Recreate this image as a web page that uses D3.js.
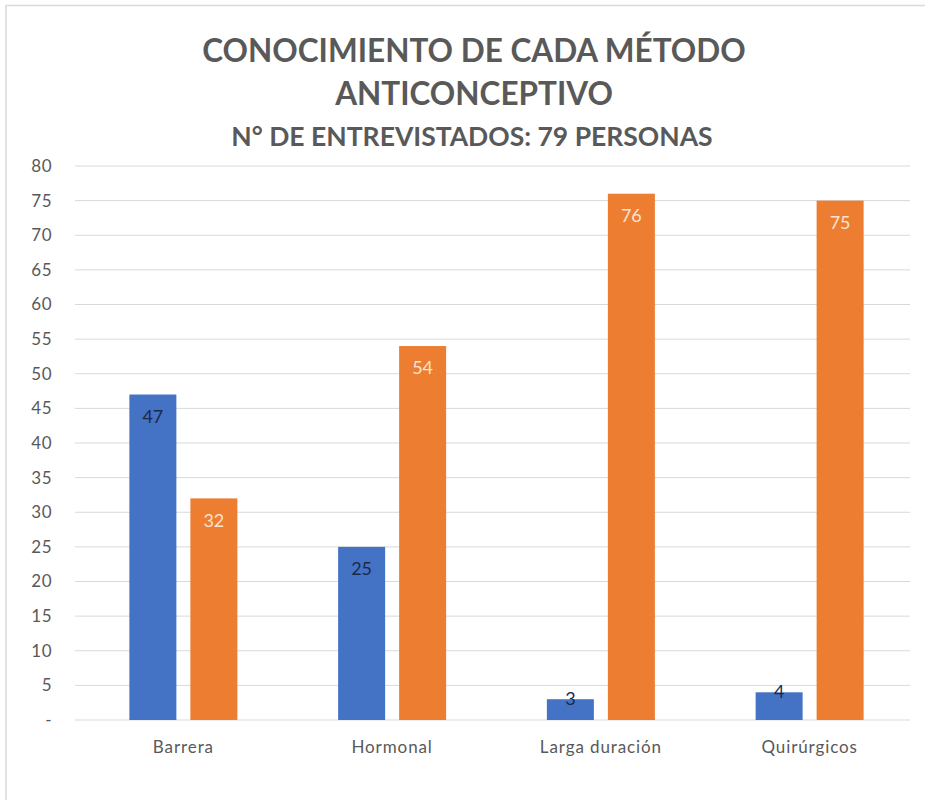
<!DOCTYPE html>
<html><head><meta charset="utf-8">
<script src="https://cdn.jsdelivr.net/npm/d3@7"></script>
<style>body{margin:0;background:#fff}svg{display:block}</style>
</head><body>
<svg id="c" width="925" height="800"></svg>
<script>
const categories = ["Barrera", "Hormonal", "Larga duración", "Quirúrgicos"];
const series1 = [47, 25, 3, 4];
const series2 = [32, 54, 76, 75];
const yTicks = [0,5,10,15,20,25,30,35,40,45,50,55,60,65,70,75,80];
const titleLines = ["CONOCIMIENTO DE CADA MÉTODO", "ANTICONCEPTIVO"];
const subtitle = "N° DE ENTREVISTADOS: 79 PERSONAS";

const svg = d3.select("#c");
const font = "Lato, 'Open Sans', sans-serif";
// frame
svg.append("rect").attr("x",6).attr("y",5.5).attr("width",940).attr("height",820)
  .attr("fill","none").attr("stroke","#d9d9d9").attr("stroke-width",1.5);

const x0 = d3.scaleBand().domain(categories).range([75, 910]).paddingInner(0).paddingOuter(0);
const y = d3.scaleLinear().domain([0, 80]).range([720, 166]);
const bw = 47, gap = 14;

// gridlines
svg.append("g").selectAll("line").data(yTicks).join("line")
  .attr("x1",75).attr("x2",910).attr("y1",d=>y(d)).attr("y2",d=>y(d))
  .attr("stroke","#d9d9d9").attr("stroke-width",1);

// y axis labels
const yAxis = d3.axisLeft(y).tickValues(yTicks).tickSize(0).tickPadding(0)
  .tickFormat(d => d === 0 ? "-" : d);
const ga = svg.append("g").attr("transform","translate(52,0)").call(yAxis);
ga.select(".domain").remove();
ga.selectAll("text").attr("fill","#595959").attr("font-family",font).attr("font-size",17)
  .attr("letter-spacing","0.5px");

// x labels
const xAxis = d3.axisBottom(x0).tickSize(0).tickPadding(0);
const gx = svg.append("g").attr("transform","translate(4,741)").call(xAxis);
gx.select(".domain").remove();
gx.selectAll("text").attr("fill","#595959").attr("font-family",font).attr("font-size",17)
  .attr("letter-spacing","0.9px").attr("dy","0.71em");

const cx = c => x0(c) + x0.bandwidth()/2 + 4;
function drawSeries(vals, color, labColor, off) {
  const g = svg.append("g");
  g.selectAll("rect").data(vals).join("rect")
    .attr("x",(d,i)=>cx(categories[i]) + off)
    .attr("y",d=>y(d)).attr("width",bw).attr("height",d=>y(0)-y(d)).attr("fill",color);
  g.selectAll("text").data(vals).join("text")
    .attr("x",(d,i)=>cx(categories[i]) + off + bw/2)
    .attr("y",d=> (y(0)-y(d))>40 ? y(d)+22 : y(d)-1)
    .attr("dy","0.35em").attr("text-anchor","middle")
    .attr("fill",labColor).attr("font-family",font).attr("font-size",18)
    .text(d=>d);
}
drawSeries(series1, "#4472C4", "#1c2a48", -gap/2 - bw);
drawSeries(series2, "#ED7D31", "#fbe3d0", gap/2);

// titles
svg.append("g").selectAll("text").data(titleLines).join("text")
  .attr("x",474).attr("y",(d,i)=>62 + i*43).attr("text-anchor","middle")
  .attr("fill","#595959").attr("font-family",font).attr("font-weight","bold").attr("font-size",31.5)
  .text(d=>d);
svg.append("text").attr("x",472).attr("y",146).attr("text-anchor","middle")
  .attr("fill","#595959").attr("font-family",font).attr("font-weight","bold").attr("font-size",26.5)
  .text(subtitle);
</script>
</body></html>
